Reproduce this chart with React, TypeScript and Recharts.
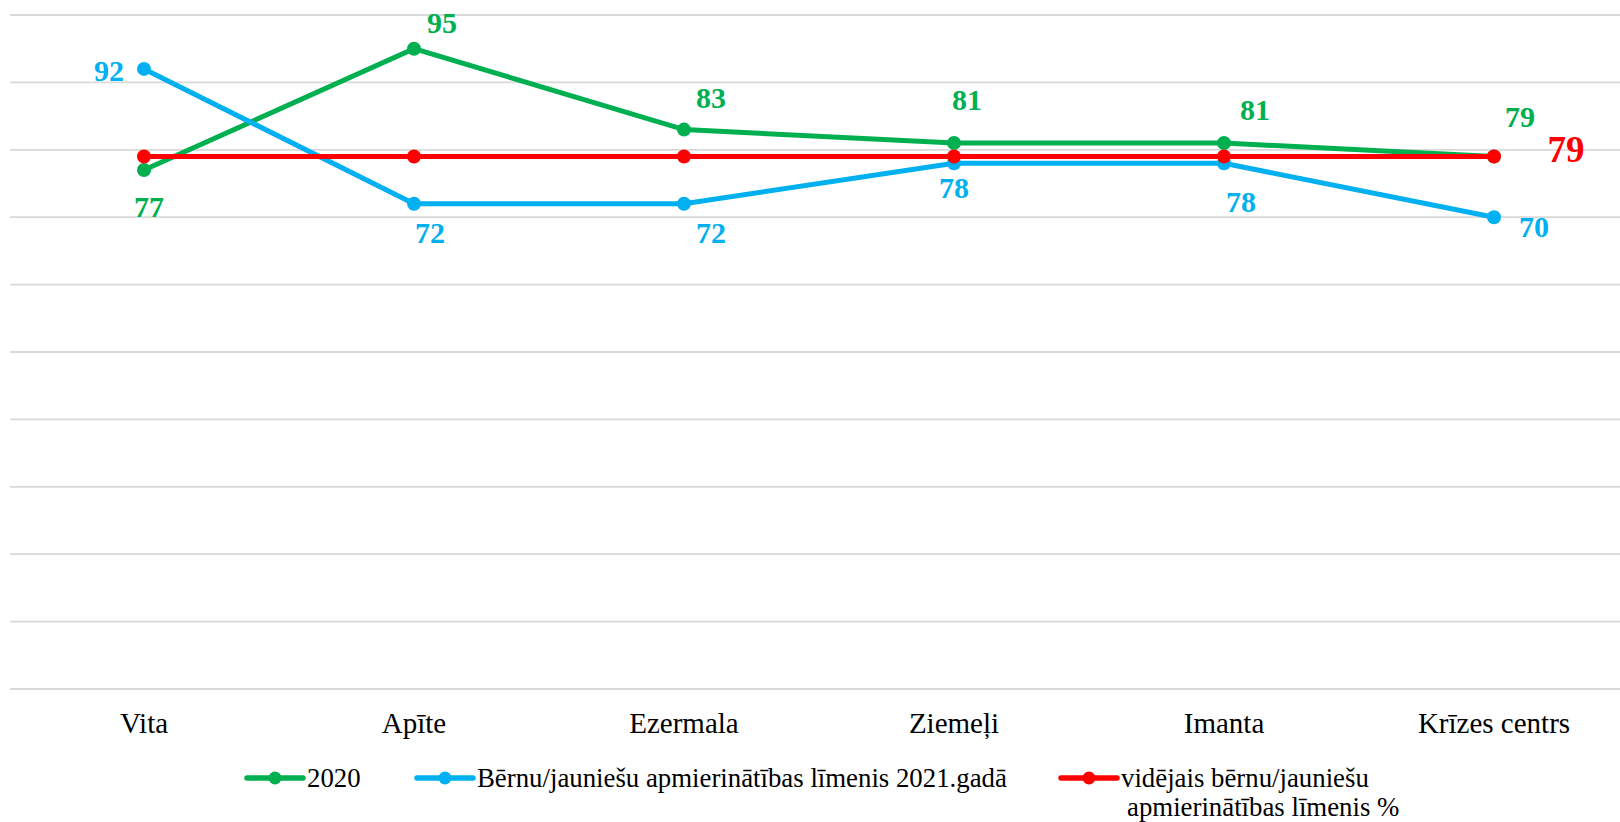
import React from "react";
import {
  LineChart,
  Line,
  XAxis,
  YAxis,
  CartesianGrid,
  Legend,
  LabelList,
} from "recharts";

const categories = ["Vita", "Apīte", "Ezermala", "Ziemeļi", "Imanta", "Krīzes centrs"];
const values2020 = [77, 95, 83, 81, 81, 79];
const values2021 = [92, 72, 72, 78, 78, 70];
const averageValues = [79, 79, 79, 79, 79, 79];
const yTicks = [0, 10, 20, 30, 40, 50, 60, 70, 80, 90, 100];

const seriesNames = [
  "2020",
  "Bērnu/jauniešu apmierinātības līmenis 2021.gadā",
  "vidējais bērnu/jauniešu\napmierinātības līmenis %",
];

// label placement relative to each point (dx, dy)
const greenLabelOffsets = [[5, 36], [28, -26], [27, -32], [13, -44], [31, -34], [26, -40]];
const blueLabelOffsets = [[-35, 2], [16, 29], [27, 29], [0, 24], [17, 38], [40, 9]];
const redLabelOffsets = [null, null, null, null, null, [72, -7]];

const GREEN = "#00B050";
const BLUE = "#00B0F0";
const RED = "#FF0000";
const FONT = "'Liberation Serif', 'Times New Roman', serif";

const data = categories.map((name, i) => ({
  name,
  y2020: values2020[i],
  y2021: values2021[i],
  avg: averageValues[i],
}));

const makeLabel = (offsets: any[], color: string, size: number) => (props: any) => {
  const { x, y, value, index } = props;
  const off = offsets[index];
  if (!off) return null;
  return (
    <text
      x={x + off[0]}
      y={y + off[1]}
      textAnchor="middle"
      dominantBaseline="central"
      fill={color}
      fontFamily={FONT}
      fontWeight="bold"
      fontSize={size}
    >
      {value}
    </text>
  );
};

const CategoryTick = ({ x, y, payload }: any) => (
  <text x={x} y={y + 44} textAnchor="middle" fill="#000" fontFamily={FONT} fontSize={29}>
    {payload.value}
  </text>
);

const legendX = [247, 417, 1061];

const renderLegend = ({ payload }: any) => (
  <svg width={1630} height={73} style={{ display: "block" }}>
    {(payload || []).map((entry: any, i: number) => {
      const x0 = legendX[i];
      const lines = String(entry.value).split("\n");
      return (
        <g key={i}>
          <line x1={x0} y1={29} x2={x0 + 56} y2={29} stroke={entry.color} strokeWidth={5.5} strokeLinecap="round" />
          <circle cx={x0 + 28} cy={29} r={6.5} fill={entry.color} />
          {lines.map((t, j) => (
            <text key={j} x={x0 + 60 + j * 6} y={38 + j * 29} fontFamily={FONT} fontSize={26.8} fill="#000">
              {t}
            </text>
          ))}
        </g>
      );
    })}
  </svg>
);

export default function App() {
  return (
    <div style={{ position: "absolute", left: 0, top: 0, width: 1620, height: 822, overflow: "hidden", background: "#fff" }}>
      <LineChart width={1630} height={822} data={data} margin={{ top: 15, right: 2, left: 10, bottom: 0 }}>
        <CartesianGrid horizontal vertical={false} stroke="#d9d9d9" strokeWidth={1.8} />
        <XAxis
          dataKey="name"
          axisLine={false}
          tickLine={false}
          tickSize={0}
          tickMargin={0}
          height={60}
          padding={{ left: 134, right: 134 }}
          interval={0}
          tick={<CategoryTick />}
        />
        <YAxis hide domain={[0, 100]} ticks={yTicks} />
        <Legend
          verticalAlign="bottom"
          height={73}
          wrapperStyle={{ left: 0, width: 1630 }}
          content={renderLegend}
        />
        <Line
          dataKey="y2020"
          name={seriesNames[0]}
          stroke={GREEN}
          strokeWidth={5}
          dot={{ r: 7, fill: GREEN, stroke: GREEN, strokeWidth: 0 }}
          isAnimationActive={false}
        >
          <LabelList dataKey="y2020" content={makeLabel(greenLabelOffsets, GREEN, 30)} />
        </Line>
        <Line
          dataKey="y2021"
          name={seriesNames[1]}
          stroke={BLUE}
          strokeWidth={5}
          dot={{ r: 7, fill: BLUE, stroke: BLUE, strokeWidth: 0 }}
          isAnimationActive={false}
        >
          <LabelList dataKey="y2021" content={makeLabel(blueLabelOffsets, BLUE, 30)} />
        </Line>
        <Line
          dataKey="avg"
          name={seriesNames[2]}
          stroke={RED}
          strokeWidth={5}
          dot={{ r: 7, fill: RED, stroke: RED, strokeWidth: 0 }}
          isAnimationActive={false}
        >
          <LabelList dataKey="avg" content={makeLabel(redLabelOffsets, RED, 37)} />
        </Line>
      </LineChart>
    </div>
  );
}
